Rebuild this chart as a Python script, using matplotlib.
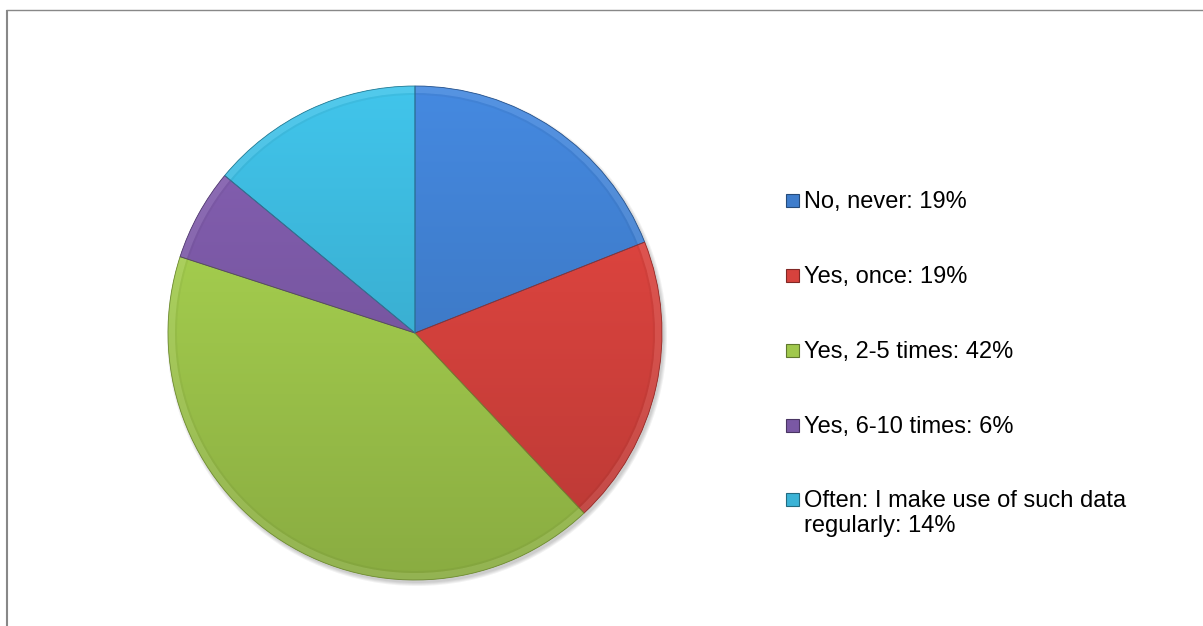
import textwrap
import numpy as np
import matplotlib
matplotlib.use("Agg")
import matplotlib.pyplot as plt
import matplotlib.patches as mpatches
from matplotlib.colors import to_rgb

plt.rcParams['font.family'] = ['Liberation Sans', 'DejaVu Sans']

# Survey answers and their shares (percent)
categories = ["No, never", "Yes, once", "Yes, 2-5 times", "Yes, 6-10 times",
              "Often: I make use of such data regularly"]
shares = [19, 19, 42, 6, 14]
colors = ["#3F7DCC", "#D6423D", "#A0C84C", "#7A58A4", "#3BB3D6"]

W, H = 1203, 626
fig = plt.figure(figsize=(W / 100, H / 100), dpi=100)
ax = fig.add_axes([0, 0, 1, 1])

cx, cy, r = 415, H - 333, 247

# soft drop shadow under the pie
for k in range(4):
    ax.add_patch(mpatches.Circle((cx + 2, cy - 3), r + 3 - k, facecolor="black",
                                 edgecolor="none", alpha=0.05, zorder=1))

wedges, _ = ax.pie(shares, colors=colors, startangle=90, counterclock=False,
                   center=(cx, cy), radius=r, frame=True,
                   wedgeprops=dict(linewidth=0, zorder=2))

# vertical light-to-dark shading inside every slice
ys = np.linspace(1.10, 0.86, 200)[:, None]
for w, c in zip(wedges, colors):
    base = np.array(to_rgb(c))
    img = np.clip(ys[:, :, None] * base[None, None, :], 0, 1)
    img = np.repeat(img, 2, axis=1)
    im = ax.imshow(img, extent=(cx - r, cx + r, cy - r, cy + r),
                   interpolation="bilinear", zorder=3)
    im.set_clip_path(w)

# bevel rim and slice outlines
for w, c in zip(wedges, colors):
    dark = np.array(to_rgb(c)) * 0.7
    ax.add_patch(mpatches.Wedge((cx, cy), r, w.theta1, w.theta2, width=7,
                                facecolor="white", edgecolor="none",
                                alpha=0.09, zorder=4))
    ax.add_patch(mpatches.Wedge((cx, cy), r - 7, w.theta1, w.theta2, width=2,
                                facecolor="black", edgecolor="none",
                                alpha=0.04, zorder=4))
    ax.add_patch(mpatches.Wedge((cx, cy), r, w.theta1, w.theta2,
                                facecolor="none", edgecolor=dark,
                                linewidth=0.6, zorder=5))

# legend: square markers with labels
row_y = [199, 274, 349, 424, 498]
for cat, s, c, y in zip(categories, shares, colors, row_y):
    lines = textwrap.wrap(f"{cat}: {s}%", 30)
    base = np.array(to_rgb(c))
    ax.add_patch(mpatches.Rectangle((786, H - y - 8), 13, 13,
                                    facecolor=base, edgecolor=base * 0.6,
                                    linewidth=0.8, zorder=5))
    for i, line in enumerate(lines):
        ax.text(804, H - y - 9 - 25 * i, line, fontsize=17, color="black",
                ha="left", va="baseline")

# outer chart border (only left and top edges fall on the canvas)
ax.plot([7, 7], [0, H - 9.5], color="#888888", lw=1.5, solid_capstyle="butt")
ax.plot([6.3, W], [H - 9.5, H - 9.5], color="#888888", lw=1.0,
        solid_capstyle="butt")

ax.set_xlim(0, W)
ax.set_ylim(0, H)
ax.set_aspect("auto")
ax.axis("off")

fig.savefig("out.png", dpi=100, facecolor="white")
